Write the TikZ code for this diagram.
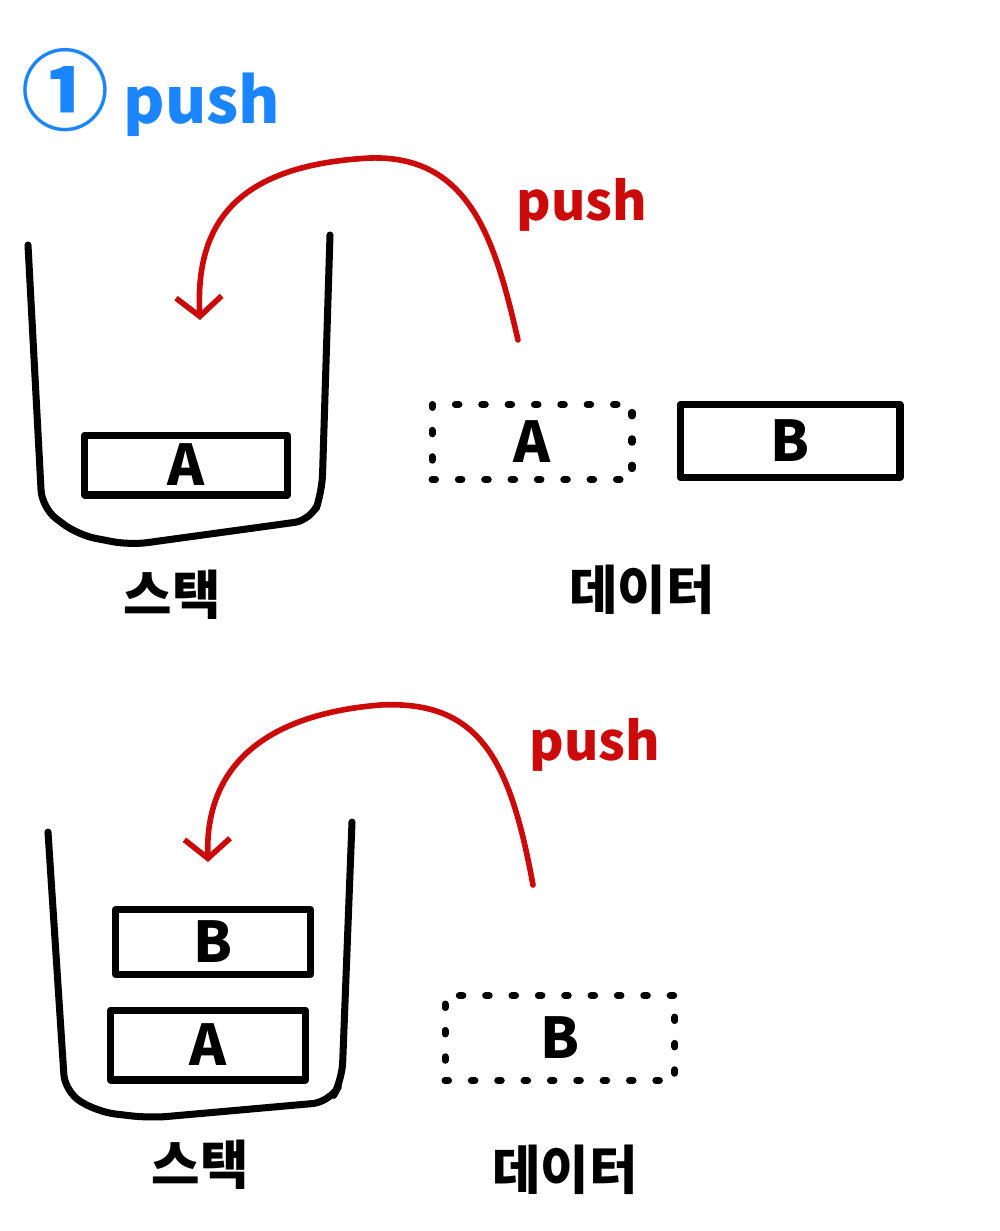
\documentclass[tikz,border=0pt]{standalone}
\usepackage{fontspec}
\setmainfont{Noto Sans CJK KR}
\usetikzlibrary{arrows.meta}
\definecolor{penblue}{HTML}{1A85FF}
\definecolor{penred}{HTML}{CC0A0A}
\tikzset{
  pen/.style={line width=4pt, line cap=round, line join=round},
  itembox/.style={pen, draw, inner sep=0pt, font=\bfseries\fontsize{32}{32}\selectfont},
  ghostbox/.style={itembox, dash pattern=on 2pt off 13pt},
  pushcurve/.style={penred, line width=3.2pt, line cap=round,
    -{Straight Barb[length=11pt,width=26pt,line width=3.2pt]}},
  pushtext/.style={penred, font=\bfseries\fontsize{30}{30}\selectfont},
  tagtext/.style={font=\bfseries\fontsize{30}{30}\selectfont}
}
\begin{document}
\begin{tikzpicture}[x=0.02cm,y=-0.02cm]
  \useasboundingbox (0,0) rectangle (1000,1231);
  % title
  \node[penblue, font=\bfseries\fontsize{36}{36}\selectfont, anchor=west] (title) at (15,92)
    {\fontsize{50}{50}\selectfont①\fontsize{36}{36}\selectfont\ push};

  % first push
  \draw[pen, rounded corners=10pt] (28,245) -- (42,508) -- (78,535) -- (130,545) -- (312,520) -- (322,492) -- (330,235);
  \node[itembox, minimum width=4.06cm, minimum height=1.2cm] (topA) at (186,465) {A};
  \node[tagtext] (topstack) at (172,595) {스택};
  \node[ghostbox, minimum width=4.0cm, minimum height=1.5cm] (ghostA) at (532,442) {A};
  \node[itembox, minimum width=4.4cm, minimum height=1.46cm] (topB) at (790,441) {B};
  \node[tagtext] (topdata) at (642,590) {데이터};
  \coordinate (fromB) at (518,340);
  \coordinate (intoA) at (200,320);
  \draw[pushcurve] (fromB) .. controls (495,240) and (470,155) .. (370,158)
    .. controls (240,165) and (195,220) .. (intoA);
  \node[pushtext] (toppush) at (582,205) {push};

  % second push
  \draw[pen, rounded corners=10pt] (48,832) -- (65,1092) -- (98,1112) -- (150,1118) -- (330,1102) -- (342,1080) -- (352,822);
  \node[itembox, minimum width=3.9cm, minimum height=1.3cm] (lowB) at (213,942) {B};
  \node[itembox, minimum width=3.9cm, minimum height=1.4cm] (lowA) at (208,1045) {A};
  \node[tagtext] (lowstack) at (200,1165) {스택};
  \node[ghostbox, minimum width=4.6cm, minimum height=1.7cm] (ghostB) at (560,1038) {B};
  \node[tagtext] (lowdata) at (565,1170) {데이터};
  \coordinate (fromdata) at (533,885);
  \coordinate (intoB) at (208,862);
  \draw[pushcurve] (fromdata) .. controls (510,760) and (480,700) .. (380,705)
    .. controls (260,715) and (205,770) .. (intoB);
  \node[pushtext] (lowpush) at (595,745) {push};
\end{tikzpicture}
\end{document}
